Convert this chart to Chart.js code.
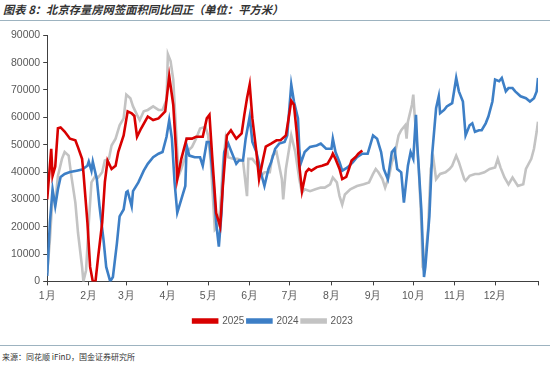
<!DOCTYPE html>
<html>
<head>
<meta charset="utf-8">
<script src="https://cdn.jsdelivr.net/npm/chart.js@4"></script>
<style>
  body { margin: 0; background: #fff; width: 550px; height: 365px; position: relative; overflow: hidden; font-family: "Liberation Sans", Arial, sans-serif; }
  #title { position: absolute; left: 3px; top: 1px; font: italic bold 11.3px "Noto Sans CJK SC", sans-serif; color: #333; white-space: nowrap; }
  .rule { position: absolute; left: 0; width: 550px; height: 1px; background: #9db3c0; }
  #src { position: absolute; left: 2px; top: 351px; font: 8px "Noto Sans CJK SC", sans-serif; color: #333; white-space: nowrap; }
  #wrap { position: absolute; left: 0; top: 26px; width: 550px; height: 310px; }
</style>
</head>
<body>
<div id="title">图表 8：北京存量房网签面积同比回正（单位：平方米）</div>
<div class="rule" style="top:20px"></div>
<div id="wrap"><canvas id="chart"></canvas></div>
<div class="rule" style="top:345px"></div>
<div id="src">来源：同花顺 iFinD，国金证券研究所</div>
<script>
// x positions are day of year, values in 平方米
const monthStarts = [0, 31, 59, 90, 120, 151, 181, 212, 243, 273, 304, 334, 366];
const monthLabels = ['1月', '2月', '3月', '4月', '5月', '6月', '7月', '8月', '9月', '10月', '11月', '12月', ''];

const days2025 = [0, 3, 4, 6, 8, 10, 13, 17, 21, 23, 26, 27, 30, 32, 34, 36, 38, 41, 43, 45, 48, 51, 53, 57, 60, 63, 65, 67, 70, 75, 79, 83, 88, 91, 94, 96, 97, 100, 104, 108, 111, 116, 119, 121, 123, 126, 129, 131, 134, 137, 141, 145, 147, 149, 151, 153, 156, 158, 161, 163, 167, 171, 174, 178, 180, 182, 184, 186, 188, 190, 193, 195, 197, 201, 205, 209, 212, 213, 215, 218, 220, 223, 225, 227, 230, 232, 235];
const vals2025 = [30000, 48500, 38600, 42000, 56000, 56300, 54800, 52200, 51600, 49000, 44800, 40000, 21500, 5300, 0, 0, 9000, 21500, 36300, 44200, 41100, 42300, 47400, 53400, 62200, 61500, 60500, 52900, 55900, 60300, 59000, 59600, 62200, 75100, 64600, 48500, 37400, 44800, 52200, 52200, 52900, 52900, 59600, 60900, 46000, 25000, 20100, 34900, 53400, 55300, 52200, 54100, 60900, 67000, 72000, 59600, 47400, 37400, 44800, 49300, 50400, 51600, 51600, 53400, 59600, 66000, 64600, 54800, 42300, 33000, 40000, 41100, 40500, 41800, 42300, 43000, 45500, 46700, 44800, 41100, 37400, 38200, 41100, 44200, 45500, 46700, 47900];

const days2024 = [0, 2, 4, 6, 8, 10, 13, 17, 22, 26, 30, 31, 33, 34, 37, 39, 42, 44, 47, 49, 52, 54, 57, 59, 60, 63, 64, 68, 72, 75, 79, 83, 86, 89, 91, 93, 95, 97, 100, 103, 104, 106, 110, 114, 116, 119, 121, 124, 126, 128, 130, 132, 135, 137, 141, 143, 146, 148, 151, 153, 156, 160, 162, 165, 167, 170, 173, 177, 179, 182, 184, 187, 188, 189, 192, 196, 201, 204, 208, 212, 213, 215, 218, 220, 224, 228, 231, 235, 239, 243, 246, 249, 251, 254, 257, 259, 261, 264, 266, 269, 271, 273, 275, 276, 279, 281, 282, 285, 287, 290, 292, 293, 296, 298, 302, 305, 307, 310, 312, 315, 317, 319, 322, 324, 327, 329, 332, 334, 337, 339, 342, 344, 347, 349, 353, 357, 360, 363, 365, 366];
const vals2024 = [2000, 21500, 33700, 27500, 33700, 38200, 39300, 40000, 40500, 40900, 42300, 43800, 40500, 43800, 37400, 27500, 15200, 5300, 0, 1600, 14000, 23800, 26300, 32600, 33000, 27500, 33000, 36200, 40500, 43000, 45400, 46700, 47300, 52900, 59000, 52200, 36200, 25100, 30000, 34900, 49700, 46000, 45400, 45400, 42300, 51000, 51000, 36200, 21400, 12700, 25100, 47300, 50400, 47900, 43000, 44200, 44200, 52200, 60300, 51000, 47300, 38600, 34900, 41100, 43600, 48500, 50400, 51000, 53400, 72000, 65800, 59600, 48500, 43000, 47300, 49200, 49700, 50400, 48500, 48500, 52200, 47300, 43600, 40500, 41700, 43600, 45400, 46700, 46700, 53400, 52200, 47300, 41100, 37400, 47300, 48500, 41100, 39900, 28800, 42300, 47300, 44800, 60900, 49700, 26300, 1600, 5300, 23800, 46000, 63300, 67700, 61500, 62700, 64000, 65200, 74400, 69500, 65800, 53400, 57100, 57800, 54700, 55300, 55300, 57800, 60300, 65800, 73800, 73200, 74400, 69500, 70700, 70700, 69500, 67700, 67000, 65800, 67000, 69500, 74400];

const days2023 = [0, 2, 4, 6, 8, 11, 13, 16, 18, 21, 23, 26, 27, 29, 31, 33, 36, 38, 41, 43, 46, 48, 51, 54, 57, 59, 62, 64, 67, 69, 72, 75, 79, 83, 86, 89, 90, 92, 94, 96, 98, 100, 104, 108, 111, 114, 118, 120, 122, 125, 127, 129, 131, 133, 135, 139, 142, 146, 149, 150, 153, 157, 160, 162, 166, 168, 171, 175, 176, 178, 182, 185, 188, 190, 192, 196, 200, 204, 207, 211, 213, 216, 218, 220, 222, 226, 231, 236, 240, 243, 245, 247, 250, 252, 255, 257, 259, 262, 264, 267, 268, 269, 272, 273, 274, 277, 279, 280, 281, 284, 286, 288, 290, 293, 297, 300, 302, 305, 307, 311, 312, 315, 319, 322, 326, 330, 334, 336, 338, 341, 344, 347, 351, 355, 357, 361, 363, 365, 366];
const vals2023 = [3000, 15200, 31200, 28800, 38600, 44800, 47300, 46000, 38600, 28800, 17700, 5300, 0, 4100, 21400, 36200, 38600, 38000, 39900, 44200, 44800, 49700, 52200, 57100, 59600, 68300, 67000, 64000, 60900, 59000, 62200, 62700, 64000, 62700, 62700, 66400, 83100, 80600, 73800, 55900, 38600, 41100, 47300, 49200, 52200, 55900, 56500, 53400, 43600, 18900, 20100, 26300, 42300, 51600, 45400, 44800, 44800, 44200, 31200, 44800, 44800, 42300, 38600, 39900, 39900, 46000, 47300, 37400, 30000, 41100, 53400, 47300, 37400, 32400, 33700, 33000, 33700, 34300, 34300, 35500, 38000, 36200, 31200, 28100, 31800, 33700, 34900, 35500, 36200, 39300, 41100, 39900, 37400, 34300, 38600, 43600, 46000, 53400, 55300, 57100, 52200, 58400, 64600, 68300, 60900, 42300, 21400, 5300, 4100, 18900, 41100, 44800, 37400, 39300, 39900, 41100, 42300, 46000, 43600, 37400, 36800, 38600, 39300, 39300, 39900, 41100, 41700, 44800, 41700, 38000, 35500, 38000, 34900, 35500, 41100, 44800, 48500, 54700, 58400];

function toPoints(days, vals) {
  return days.map((d, i) => ({ x: d, y: vals[i] }));
}

const axisColor = '#404040';
const tickFont = { family: '"Liberation Sans", Arial, sans-serif', size: 10.5 };

const ctx = document.getElementById('chart').getContext('2d');
const chart = new Chart(ctx, {
  type: 'line',
  data: {
    datasets: [
      { label: '2025', data: toPoints(days2025, vals2025), borderColor: '#d80000', backgroundColor: '#d80000' },
      { label: '2024', data: toPoints(days2024, vals2024), borderColor: '#3d7fc6', backgroundColor: '#3d7fc6' },
      { label: '2023', data: toPoints(days2023, vals2023), borderColor: '#c3c3c3', backgroundColor: '#c3c3c3' }
    ]
  },
  options: {
    responsive: true,
    maintainAspectRatio: false,
    animation: false,
    layout: { padding: { top: 7, right: 12, left: 8, bottom: 0 } },
    elements: {
      line: { borderWidth: 2.6, tension: 0 },
      point: { radius: 0 }
    },
    plugins: {
      tooltip: { enabled: false },
      legend: {
        position: 'bottom',
        labels: {
          boxWidth: 24,
          boxHeight: 3,
          padding: 3,
          color: '#595959',
          font: { family: '"Liberation Sans", Arial, sans-serif', size: 10 }
        }
      }
    },
    scales: {
      x: {
        type: 'linear',
        min: 0,
        max: 366,
        afterBuildTicks: function(axis) {
          axis.ticks = monthStarts.map(v => ({ value: v }));
        },
        afterFit: function(axis) {
          axis.height += 7;
        },
        ticks: {
          autoSkip: false,
          maxRotation: 0,
          color: '#595959',
          font: tickFont,
          padding: 4,
          callback: function(value) {
            const i = monthStarts.indexOf(value);
            return i >= 0 ? monthLabels[i] : '';
          }
        },
        grid: { display: true, drawOnChartArea: false, drawTicks: true, tickLength: 4, color: axisColor },
        border: { display: true, color: axisColor, width: 1 }
      },
      y: {
        min: 0,
        max: 90000,
        ticks: {
          stepSize: 10000,
          color: '#595959',
          font: tickFont,
          padding: 3,
          callback: function(value) { return String(value); }
        },
        grid: { display: true, drawOnChartArea: false, drawTicks: true, tickLength: 4, color: axisColor },
        border: { display: true, color: axisColor, width: 1 }
      }
    }
  }
});
</script>
</body>
</html>
